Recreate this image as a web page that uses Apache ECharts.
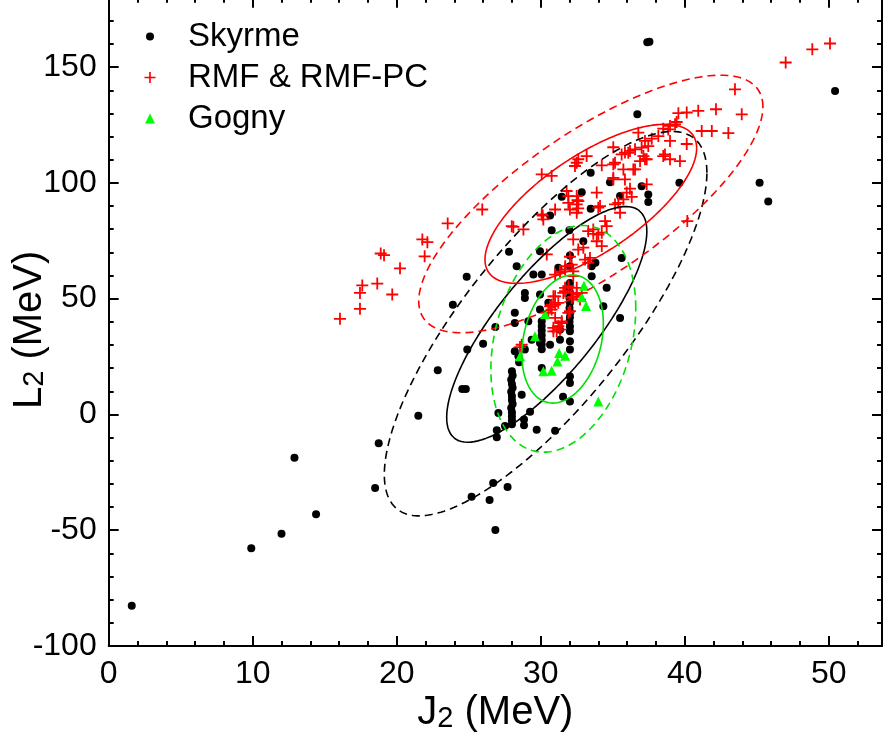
<!DOCTYPE html>
<html>
<head>
<meta charset="utf-8">
<script src="https://cdn.jsdelivr.net/npm/echarts@6/dist/echarts.min.js"></script>
<style>
  html, body { margin: 0; padding: 0; background: #fff; }
  #chart { width: 883px; height: 740px; }
</style>
</head>
<body>
<div id="chart"></div>
<script>
// J2 (MeV), L2 (MeV)
const skyrme = [
  [1.6, -82.6], [9.9, -57.8], [12.0, -51.5], [12.9, -18.7], [14.4, -43.1], [18.5, -31.8],
  [18.75, -12.4], [21.5, -0.6], [22.85, 19.1], [23.9, 47.4], [24.55, 11.0], [24.8, 11.0],
  [24.86, 59.5], [24.9, 28.0], [25.2, -35.5], [26.45, -36.9], [26.7, -29.6], [26.85, -49.9],
  [27.7, -31.3], [26.0, 30.5], [26.85, 37.8], [26.95, -6.8], [26.95, -9.9], [27.06, 0.6],
  [27.52, -5.0], [27.8, 70.3],
  [28.0, 18.6], [28.05, 16.8], [27.95, 15.0], [28.0, 13.2], [28.05, 11.5], [27.95, 9.8],
  [28.0, 8.0], [28.0, 6.2], [28.05, 4.5], [27.95, 2.8], [28.0, 1.0], [28.0, -0.8],
  [28.0, -2.5], [28.0, -4.2],
  [28.2, 43.9], [28.2, 39.5], [28.2, 27.3], [28.33, 64.0], [28.45, 25.1], [28.5, 22.5],
  [28.68, 8.5], [28.84, -2.2], [28.84, -4.7], [28.9, 52.5], [28.9, 50.3], [28.9, 28.0],
  [29.14, 40.2], [29.26, 1.2], [29.37, 32.3], [29.49, 60.4], [29.72, -6.6], [29.95, 51.8],
  [29.95, 45.3], [29.95, 30.9], [29.95, 70.5],
  [30.07, 40.2], [30.07, 38.2], [30.07, 36.2], [30.07, 34.2], [30.07, 32.2], [30.07, 30.2],
  [30.07, 28.2], [30.07, 20.1], [30.07, 60.4],
  [30.53, 48.2], [30.65, 30.1], [30.65, 85.9], [30.76, 79.5], [31.0, -7.0], [31.22, 63.3],
  [31.34, 36.6], [31.34, 32.3], [31.46, 94.0], [31.55, 7.6], [31.99, 79.5],
  [32.03, 56.8], [32.0, 54.7], [32.05, 52.5], [32.0, 50.3], [32.03, 48.2], [32.0, 46.0],
  [32.05, 44.0], [32.03, 42.0], [32.0, 40.0], [32.03, 38.0], [32.03, 35.9], [32.03, 31.6],
  [32.03, 28.0], [32.03, 16.4], [32.03, 13.6], [32.03, 5.6], [32.03, 64.0], [32.03, 68.6],
  [32.85, 96.0], [32.96, 74.8], [33.47, 104.4], [33.47, 88.8], [33.54, 64.0], [33.54, 59.7],
  [33.8, 65.5], [34.35, 46.7], [34.58, 54.7], [34.81, 100.3], [35.51, 94.3], [35.51, 41.7],
  [35.62, 67.6], [36.71, 129.6], [37.01, 98.6], [37.47, 95.0], [37.47, 91.7], [37.4, 160.7],
  [37.55, 161.0], [39.63, 100.1], [45.2, 100.1], [45.8, 92.0], [50.44, 139.7]
];

const rmf = [
  [16.06, 41.3], [17.45, 45.6], [17.45, 52.5], [17.61, 55.7], [18.65, 56.5], [19.69, 51.8],
  [20.23, 63.1], [18.89, 69.5], [19.12, 68.8], [21.78, 75.6], [22.13, 74.4], [21.94, 68.3],
  [23.54, 82.5], [25.94, 88.5],
  [28.1, 81.0], [28.8, 79.9], [27.99, 81.3], [30.14, 85.9], [30.07, 86.4], [30.18, 84.2],
  [30.07, 103.7], [30.76, 103.0], [31.0, 88.5], [31.92, 94.3], [32.61, 92.1],
  [32.5, 94.3], [32.55, 92.5], [32.5, 90.7], [32.6, 89.0], [32.5, 87.1],
  [32.5, 108.7], [32.61, 110.2], [32.38, 107.3], [33.19, 111.6],
  [33.89, 95.8], [35.04, 102.2], [35.85, 101.5], [36.43, 105.8], [35.16, 108.7], [36.08, 113.0],
  [37.36, 110.2], [38.51, 111.6], [39.67, 109.4], [37.36, 99.4], [35.97, 95.8], [35.39, 91.4],
  [34.0, 89.3], [33.3, 79.2], [34.47, 83.5], [34.58, 81.3], [34.0, 77.7], [33.89, 74.8],
  [32.26, 75.6], [32.61, 71.2], [32.96, 72.0], [33.65, 79.9], [34.24, 78.5], [33.65, 78.0],
  [34.24, 72.7], [33.08, 66.9], [33.42, 67.6], [32.03, 68.1], [30.42, 69.1], [32.15, 64.7],
  [31.34, 61.8], [31.0, 60.4], [31.7, 64.0], [32.26, 59.7], [31.69, 54.7], [31.57, 52.5],
  [30.88, 51.0], [31.22, 48.2], [31.0, 47.5], [30.65, 46.7], [30.53, 43.9], [31.0, 41.7],
  [31.34, 36.6], [31.92, 43.9], [32.15, 50.3], [32.5, 51.8], [30.88, 35.9], [31.46, 39.5],
  [32.73, 49.6], [31.34, 61.2], [31.69, 62.6], [32.26, 61.8], [33.3, 65.5], [32.5, 54.7],
  [31.92, 55.4], [31.69, 53.2], [32.15, 52.5], [32.26, 50.8], [32.85, 52.5], [31.0, 51.0],
  [30.76, 47.4], [30.76, 45.3], [32.03, 44.6], [31.46, 40.2], [31.22, 38.1], [30.88, 37.4],
  [31.11, 35.9], [28.68, 30.1], [28.56, 29.1],
  [39.56, 130.1], [40.14, 130.4], [40.94, 131.1], [42.17, 131.8], [43.96, 129.6], [43.49, 140.4],
  [39.44, 126.3], [38.98, 124.6], [38.51, 123.4], [38.86, 123.1], [39.33, 125.3], [41.18, 122.4],
  [41.88, 122.4], [43.03, 121.5], [36.78, 121.7], [38.17, 120.2], [37.71, 119.1], [37.24, 118.1],
  [38.98, 118.1], [40.14, 116.8], [37.47, 115.9], [37.01, 115.2], [36.55, 114.5], [36.2, 113.8],
  [35.85, 113.1], [35.04, 115.4], [35.62, 112.3], [37.13, 111.6], [36.9, 109.4], [38.63, 112.3],
  [38.98, 110.2], [34.24, 107.6], [35.04, 108.0], [35.74, 105.8], [36.55, 105.8], [35.04, 101.5],
  [36.2, 97.5], [36.32, 94.0], [35.74, 92.9], [35.16, 90.7], [34.12, 90.0], [35.51, 87.1],
  [31.8, 96.5], [31.92, 91.4], [32.03, 88.5], [40.18, 83.5], [37.24, 110.2],
  [47.01, 152.0], [48.86, 157.7], [50.09, 160.2]
];

const gogny = [
  [33.0, 55.6], [32.85, 50.6], [33.15, 46.8], [30.3, 43.4], [29.6, 33.8], [28.56, 25.1],
  [30.18, 18.6], [30.76, 18.9], [31.16, 22.9], [31.28, 26.5], [31.69, 25.3], [34.0, 5.6]
];

// confidence ellipses: centre, half ranges along J2 / L2, correlation
const ellipseGroups = ['Skyrme', 'Skyrme', 'RMF & RMF-PC', 'RMF & RMF-PC', 'Gogny', 'Gogny'];
const ellipseLevels = ['inner', 'outer', 'inner', 'outer', 'inner', 'outer'];
const ellipseCenters = [[30.42, 38.9], [30.34, 39.2], [33.48, 90.95], [33.48, 90.9], [31.52, 32.55], [31.57, 32.65]];
const ellipseHalfRanges = [[6.95, 50.9], [11.2, 83.0], [7.35, 34.35], [11.95, 55.6], [2.83, 27.65], [5.03, 48.95]];
const ellipseCorrelations = [0.79, 0.785, 0.70, 0.755, 0.24, 0.27];

const xTicks = [0, 10, 20, 30, 40, 50];
const yTicks = [-100, -50, 0, 50, 100, 150];

const FONT = 'Liberation Sans, Arial, sans-serif';
const groupColors = { 'Skyrme': '#000000', 'RMF & RMF-PC': '#ff0000', 'Gogny': '#00ff00' };
const lineColors = { 'Skyrme': '#000000', 'RMF & RMF-PC': '#ff0000', 'Gogny': '#00e000' };
const PLUS = 'path://M10.2,0H13.8V10.2H24V13.8H13.8V24H10.2V13.8H0V10.2H10.2Z';

function ellipseOutline(i) {
  const [cx, cy] = ellipseCenters[i];
  const [a, b] = ellipseHalfRanges[i];
  const phi = Math.acos(ellipseCorrelations[i]);
  const pts = [];
  for (let k = 0; k <= 240; k++) {
    const t = (k / 240) * 2 * Math.PI;
    pts.push([cx + a * Math.cos(t), cy + b * Math.cos(t - phi)]);
  }
  return pts;
}

const X_MIN = 0, X_MAX = 53.7, Y_MIN = -100, Y_MAX = 180;

function xAxisDef(position, major) {
  return {
    type: 'value', position, min: X_MIN, max: X_MAX,
    interval: major ? 10 : 2,
    axisLine: { show: major, onZero: false, lineStyle: { color: '#000', width: 2 } },
    axisTick: { show: true, inside: true, length: major ? 10 : 5, lineStyle: { color: '#000', width: 2 } },
    axisLabel: {
      show: major && position === 'bottom', margin: 12,
      color: '#000', fontSize: 32, fontFamily: FONT,
      formatter: v => (xTicks.includes(v) ? String(v) : '')
    },
    splitLine: { show: false }
  };
}

function yAxisDef(position, major) {
  return {
    type: 'value', position, min: Y_MIN, max: Y_MAX,
    interval: major ? 50 : 10,
    axisLine: { show: major, onZero: false, lineStyle: { color: '#000', width: 2 } },
    axisTick: { show: true, inside: true, length: major ? 10 : 5, lineStyle: { color: '#000', width: 2 } },
    axisLabel: {
      show: major && position === 'left', margin: 12,
      color: '#000', fontSize: 32, fontFamily: FONT,
      formatter: v => (yTicks.includes(v) ? String(v) : '')
    },
    splitLine: { show: false }
  };
}

const nameRich = {
  a: { fontSize: 40, fontFamily: FONT, color: '#000', lineHeight: 40 },
  s: { fontSize: 29, fontFamily: FONT, color: '#000', lineHeight: 10, verticalAlign: 'bottom' }
};

const xAxes = [xAxisDef('bottom', true), xAxisDef('top', true), xAxisDef('bottom', false), xAxisDef('top', false)];
Object.assign(xAxes[0], {
  name: '{a|J}{s|2}{a| (MeV)}', nameLocation: 'middle', nameGap: 47,
  nameMoveOverlap: false, nameTextStyle: { rich: nameRich }
});

const yAxes = [yAxisDef('left', true), yAxisDef('right', true), yAxisDef('left', false), yAxisDef('right', false)];
Object.assign(yAxes[0], {
  name: '{a|L}{s|2}{a| (MeV)}', nameLocation: 'middle', nameGap: 59,
  nameMoveOverlap: false, nameTextStyle: { rich: nameRich, padding: [0, 16, 0, 0] }
});

const series = [
  { name: 'Skyrme', data: skyrme, symbol: 'circle', symbolSize: 8 },
  { name: 'RMF & RMF-PC', data: rmf, symbol: PLUS, symbolSize: 12 },
  { name: 'Gogny', data: gogny, symbol: 'triangle', symbolSize: 10 }
].map(s => ({
  type: 'scatter', name: s.name, data: s.data, symbol: s.symbol, symbolSize: s.symbolSize,
  itemStyle: { color: groupColors[s.name], opacity: 1 }, z: 2
}));

ellipseGroups.forEach((g, i) => {
  series.push({
    type: 'line', name: g + ' ' + ellipseLevels[i], data: ellipseOutline(i),
    symbol: 'none', silent: true, z: 3, clip: false,
    lineStyle: {
      color: lineColors[g], width: 1.6,
      type: ellipseLevels[i] === 'inner' ? 'solid' : [8, 5]
    }
  });
});

// one legend per entry so each icon keeps its own size
function legendDef(name, centerY, size) {
  const left = 150 - size / 2;
  return {
    data: [name], left, top: centerY - 16, padding: 0,
    itemWidth: size, itemHeight: size,
    selectedMode: false,
    textStyle: {
      color: '#000', fontSize: 33, fontFamily: FONT,
      padding: [0, 0, 0, 188 - (left + size + 5)]
    }
  };
}

const chart = echarts.init(document.getElementById('chart'), null, { renderer: 'canvas' });
chart.setOption({
  backgroundColor: '#fff',
  animation: false,
  grid: { left: 108.7, right: 1, top: -2.36, bottom: 94, containLabel: false, outerBoundsMode: 'none' },
  xAxis: xAxes,
  yAxis: yAxes,
  legend: [legendDef('Skyrme', 36, 8), legendDef('RMF & RMF-PC', 77, 11), legendDef('Gogny', 118, 10)],
  series
});
</script>
</body>
</html>
